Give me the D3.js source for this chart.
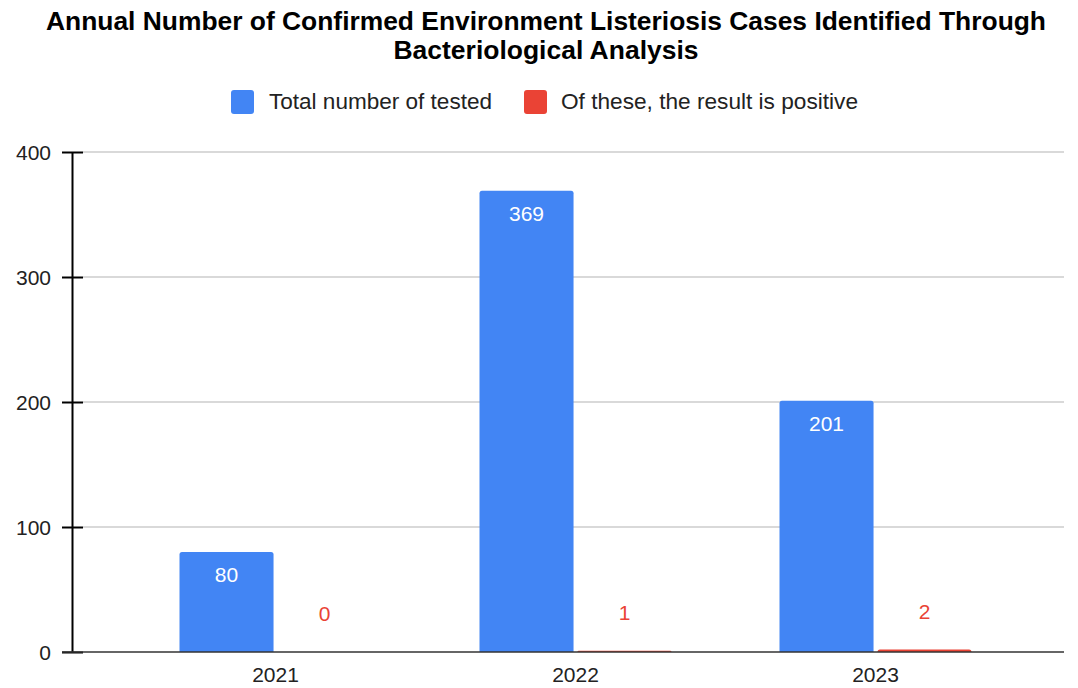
<!DOCTYPE html>
<html><head><meta charset="utf-8">
<script src="https://cdn.jsdelivr.net/npm/d3@7.9.0/dist/d3.min.js"></script>
<style>body{margin:0;background:#fff}svg{display:block;font-family:"Liberation Sans",Arial,sans-serif}</style>
</head><body><svg width="1078" height="688"></svg>
<script>
const years=['2021','2022','2023'];
const seriesNames=['Total number of tested','Of these, the result is positive'];
const tested=[80,369,201];
const positive=[0,1,2];
const yTicks=[0,100,200,300,400];
const colors=['#4285F4','#EA4335'];

const svg=d3.select('svg');
const x0=72,x1=1064,yTop=152,yBot=652;
const x=d3.scaleBand().domain(years).range([125.5,1025.5]).paddingInner(0.36).paddingOuter(0.18);
const xs=d3.scaleBand().domain([0,1]).range([0,x.bandwidth()]).paddingInner(0.04);
const y=d3.scaleLinear().domain([0,400]).range([yBot,yTop]);

// title
const tl=[{t:'Annual Number of Confirmed Environment Listeriosis Cases Identified Through',y:30,w:1000},
 {t:'Bacteriological Analysis',y:59,w:305}];
tl.forEach(l=>svg.append('text').attr('x',546).attr('y',l.y).attr('text-anchor','middle')
 .attr('font-weight','bold').attr('font-size',25).attr('textLength',l.w).attr('lengthAdjust','spacingAndGlyphs').text(l.t));

// legend
const leg=[{x:231,tx:269,w:223},{x:524,tx:561,w:297}];
seriesNames.forEach((n,i)=>{
 svg.append('rect').attr('x',leg[i].x).attr('y',90).attr('width',23).attr('height',24).attr('rx',3).attr('fill',colors[i]);
 svg.append('text').attr('x',leg[i].tx).attr('y',108.5).attr('font-size',22).attr('fill','#222')
  .attr('textLength',leg[i].w).attr('lengthAdjust','spacingAndGlyphs').text(n);
});

// grid
svg.append('g').selectAll('line').data(yTicks.filter(d=>d>0)).join('line')
 .attr('x1',83).attr('x2',x1).attr('y1',d=>y(d)).attr('y2',d=>y(d)).attr('stroke','#ccc').attr('stroke-width',1.5);

// y axis
const ya=svg.append('g').attr('transform',`translate(${x0},0)`)
 .call(d3.axisLeft(y).tickValues(yTicks).tickSize(10).tickPadding(11).tickSizeOuter(0));
ya.select('.domain').attr('stroke','#000').attr('stroke-width',2);
ya.selectAll('.tick line').attr('stroke','#000').attr('stroke-width',2).attr('x2',11).attr('x1',-10);
ya.selectAll('text').attr('font-size',21).attr('font-family','Liberation Sans, Arial, sans-serif').attr('fill','#222').attr('dy','0.36em');

// bars
const data=years.map((yr,i)=>({yr,v:[tested[i],positive[i]]}));
const g=svg.append('g').selectAll('g').data(data).join('g').attr('transform',d=>`translate(${x(d.yr)},0)`);
function topRound(px,py,w,h,r){r=Math.min(r,h,w/2);
 return `M${px},${py+h}V${py+r}Q${px},${py} ${px+r},${py}H${px+w-r}Q${px+w},${py} ${px+w},${py+r}V${py+h}Z`;}
g.selectAll('path').data(d=>d.v.map((v,i)=>({v,i}))).join('path')
 .attr('d',d=>topRound(xs(d.i),y(d.v),xs.bandwidth(),yBot-y(d.v),2.5)).attr('fill',d=>colors[d.i]);
g.selectAll('text').data(d=>d.v.map((v,i)=>({v,i}))).join('text')
 .attr('x',d=>xs(d.i)+xs.bandwidth()/2).attr('text-anchor','middle').attr('font-size',21)
 .attr('y',d=>d.i===0?y(d.v)+30:Math.min(y(d.v),yBot)-31)
 .attr('fill',d=>d.i===0?'#fff':colors[1]).text(d=>d.v);

// x axis
svg.append('line').attr('x1',62).attr('x2',x1).attr('y1',yBot).attr('y2',yBot).attr('stroke','#333').attr('stroke-width',1.5);
const xa=svg.append('g').attr('transform',`translate(0,${yBot})`).call(d3.axisBottom(x).tickSize(0).tickPadding(15));
xa.select('.domain').remove();
xa.selectAll('text').attr('font-size',21).attr('font-family','Liberation Sans, Arial, sans-serif').attr('fill','#222');
</script></body></html>
